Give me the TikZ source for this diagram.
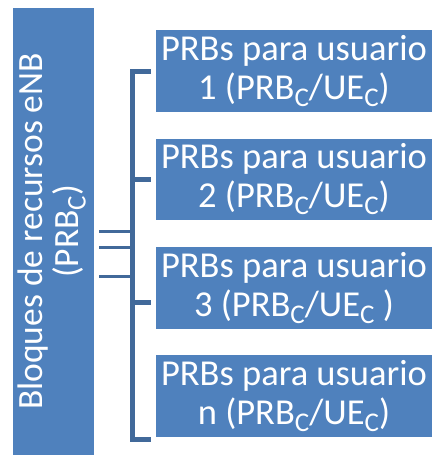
\documentclass[tikz,border=0pt]{standalone}
\usepackage{fontspec}
\setmainfont{Carlito}
\usetikzlibrary{positioning}
\definecolor{prbblue}{HTML}{4F81BD}
\definecolor{linkblue}{HTML}{41699A}
\newcommand{\subc}[1]{\raisebox{-7pt}{\fontsize{27}{27}\selectfont #1}}

\begin{document}
\begin{tikzpicture}[x=1pt, y=-1pt,
    block/.style={fill=prbblue, text=white, inner sep=0pt, align=center},
    userbox/.style={block, minimum width=276pt, minimum height=81.5pt, font=\fontsize{36.5}{39}\selectfont},
    bracket/.style={draw=linkblue, line width=5pt},
    link/.style={draw=linkblue, line width=3pt}]
    \useasboundingbox (0,0) rectangle (432,455);

    % Draw eNB resource block column
    \node[block, minimum width=81.3pt, minimum height=447pt, font=\fontsize{35.5}{35}\selectfont] (enb) at (53.35,231.5)
        {\rotatebox{90}{\begin{tabular}{@{}c@{}}Bloques de recursos eNB\\(PRB\subc{C})\end{tabular}}};

    % Draw PRB boxes for each user
    \node[userbox] (ue1) at (294,71) {PRBs para usuario\\1 (PRB\subc{C}/UE\subc{C})};
    \node[userbox, below=26.5pt of ue1] (ue2) {PRBs para usuario\\2 (PRB\subc{C}/UE\subc{C})};
    \node[userbox, below=26.5pt of ue2] (ue3) {PRBs para usuario\\3 (PRB\subc{C}/UE\subc{C} )};
    \node[userbox, below=26.5pt of ue3] (uen) {PRBs para usuario\\n (PRB\subc{C}/UE\subc{C})};

    % Draw bracket joining the user boxes
    \draw[bracket] ([xshift=-5pt]ue1.west) -- ++(-18.5pt,0) coordinate (spine)
        |- ([shift={(-5pt,-2.5pt)}]uen.south west);
    \draw[bracket] ([xshift=-5pt]ue2.west) -- (spine |- ue2.west);
    \draw[bracket] ([shift={(-5pt,-14.5pt)}]ue3.west) -- ++(-18.5pt,0);

    % Draw links from the eNB column to the bracket
    \foreach \dy in {0,15.5,44.5}
        \draw[link] ([shift={(5pt,-\dy pt)}]enb.east) -- ++(33.5pt,0);
\end{tikzpicture}
\end{document}
